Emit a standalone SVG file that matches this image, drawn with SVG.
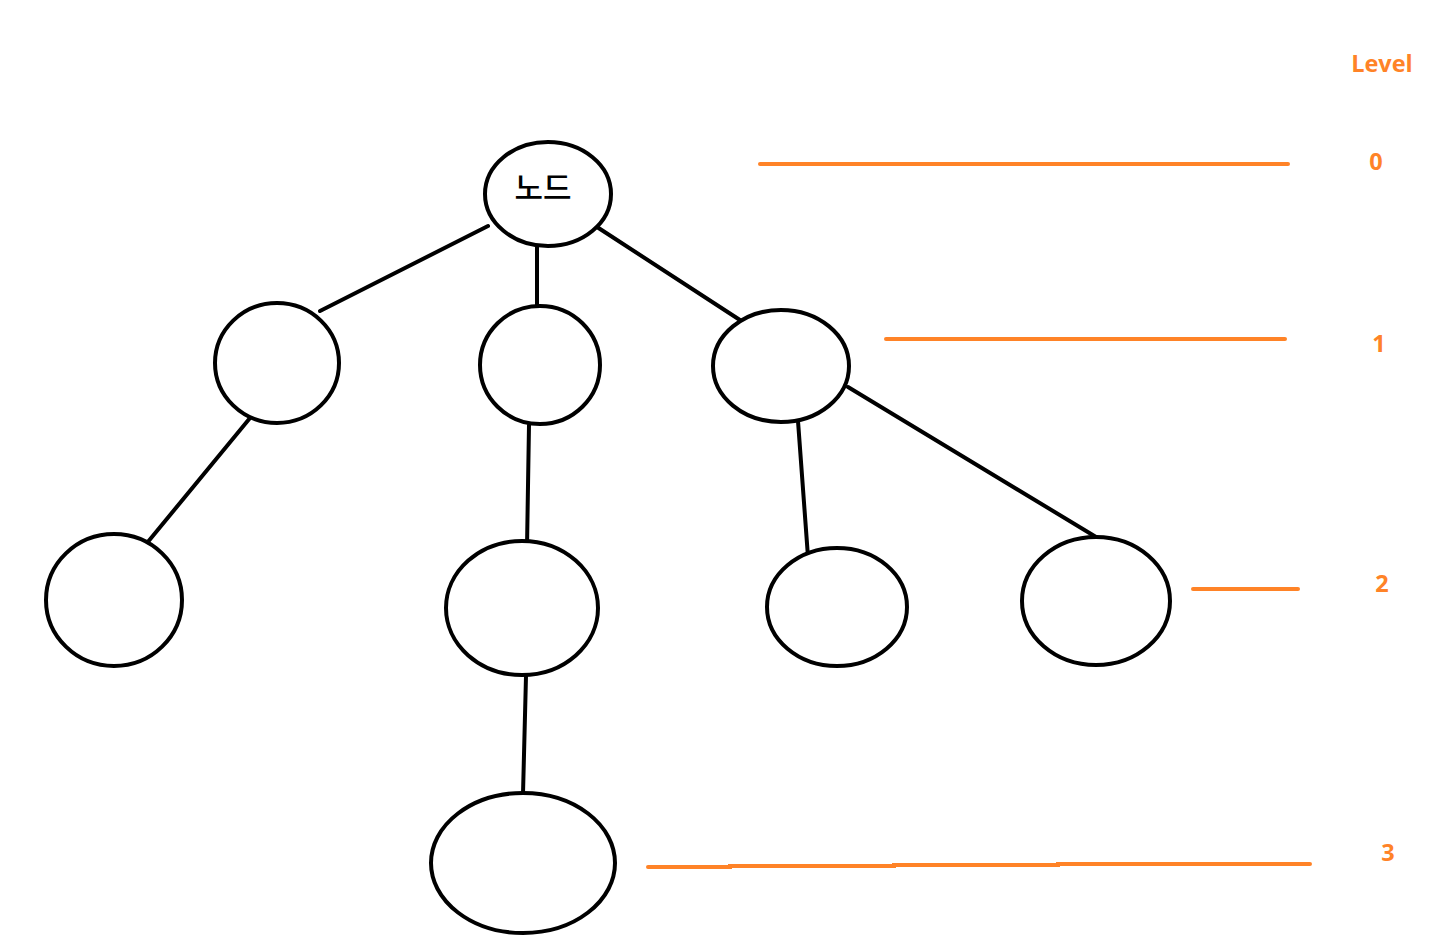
<svg xmlns="http://www.w3.org/2000/svg" width="1432" height="937" viewBox="0 0 1432 937">
<style>
.n{fill:#fff;stroke:#000;stroke-width:4}
.c line{stroke:#000;stroke-width:4;stroke-linecap:round}
.lv{stroke:#FF8327;stroke-width:4;stroke-linecap:round;fill:none}
.lt{fill:#FF8327;font-family:"Open Sans","Liberation Sans",sans-serif;font-weight:bold;font-size:23.5px;text-anchor:middle}
</style>
<rect width="1432" height="937" fill="#fff"/>
<g id="connectors" class="c">
<line x1="488" y1="226" x2="320" y2="311"/>
<line x1="537" y1="247" x2="537" y2="313"/>
<line x1="597" y1="227" x2="743" y2="322"/>
<line x1="250" y1="418" x2="147" y2="543"/>
<line x1="529" y1="425" x2="527" y2="547"/>
<line x1="798" y1="421" x2="808" y2="557"/>
<line x1="848" y1="387" x2="1101" y2="540"/>
<line x1="526" y1="676" x2="523" y2="794"/>
</g>
<g id="root"><ellipse class="n" cx="548" cy="194" rx="63" ry="52"/><text x="543" y="199" font-family="'Noto Sans CJK KR',sans-serif" font-size="31" font-weight="500" text-anchor="middle" fill="#000">노드</text></g>
<g id="n1a"><ellipse class="n" cx="277" cy="363" rx="62" ry="60"/></g>
<g id="n1b"><ellipse class="n" cx="540" cy="365" rx="60" ry="59"/></g>
<g id="n1c"><ellipse class="n" cx="781" cy="366" rx="68" ry="56"/></g>
<g id="n2a"><ellipse class="n" cx="114" cy="600" rx="68" ry="66"/></g>
<g id="n2b"><ellipse class="n" cx="522" cy="608" rx="76" ry="67"/></g>
<g id="n2c"><ellipse class="n" cx="837" cy="607" rx="70" ry="59"/></g>
<g id="n2d"><ellipse class="n" cx="1096" cy="601" rx="74" ry="64"/></g>
<g id="n3"><ellipse class="n" cx="523" cy="863" rx="92" ry="70"/></g>
<g id="levels">
<line class="lv" x1="760" y1="164" x2="1288" y2="164"/>
<line class="lv" x1="886" y1="339" x2="1285" y2="339"/>
<line class="lv" x1="1193" y1="589" x2="1298" y2="589"/>
<polyline class="lv" stroke-linecap="butt" points="648,867 730,867 730,866 894,866 894,865 1058,865 1058,864 1310,864"/>
<text class="lt" x="1382" y="72">Level</text>
<text class="lt" x="1376" y="170">0</text>
<text class="lt" x="1379" y="352">1</text>
<text class="lt" x="1382" y="592">2</text>
<text class="lt" x="1388" y="861">3</text>
</g>
</svg>
